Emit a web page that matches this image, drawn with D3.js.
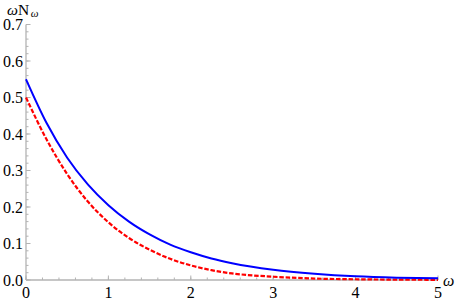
<!DOCTYPE html>
<html><head><meta charset="utf-8">
<script src="https://cdn.jsdelivr.net/npm/d3@7"></script>
<style>body{margin:0;background:#fff}svg{display:block}text{font-family:"Liberation Serif","DejaVu Serif",serif}</style>
</head><body><svg id="c" width="457" height="304"></svg>
<script>
const omega = [0,0.25,0.5,0.75,1,1.25,1.5,1.75,2,2.25,2.5,3,3.5,4,4.5,5];
const blueVals = [0.55,0.43,0.335,0.262,0.205,0.160,0.125,0.097,0.076,0.059,0.046,0.028,0.017,0.010,0.0065,0.005];
const redVals  = [0.50,0.385,0.29,0.215,0.158,0.115,0.083,0.058,0.040,0.027,0.018,0.009,0.004,0.002,0.001,0.0005];
const xTicks = [0,1,2,3,4,5];
const yTicks = [0,0.1,0.2,0.3,0.4,0.5,0.6,0.7];

const svg = d3.select("#c");
const x = d3.scaleLinear().domain([0,5]).range([26,438]);
const y = d3.scaleLinear().domain([0,0.7]).range([280,24.5]);
const axisCol = "#b3b3b3";

const xMinor = d3.range(0,5.001,0.2).map(v=>+v.toFixed(2));
const yMinor = d3.range(0,0.7001,0.02).map(v=>+v.toFixed(3));
svg.append("g").selectAll("line").data(xMinor).join("line")
  .attr("x1",d=>x(d)).attr("x2",d=>x(d)).attr("y1",y(0)).attr("y2",y(0)-2.5)
  .attr("stroke",axisCol).attr("stroke-width",1);
svg.append("g").selectAll("line").data(yMinor).join("line")
  .attr("x1",x(0)).attr("x2",x(0)+2.5).attr("y1",d=>y(d)).attr("y2",d=>y(d))
  .attr("stroke",axisCol).attr("stroke-width",1);
svg.append("g").selectAll("line").data(xTicks).join("line")
  .attr("x1",d=>x(d)).attr("x2",d=>x(d)).attr("y1",y(0)).attr("y2",y(0)-4.5)
  .attr("stroke",axisCol).attr("stroke-width",1);
svg.append("g").selectAll("line").data(yTicks).join("line")
  .attr("x1",x(0)).attr("x2",x(0)+4.5).attr("y1",d=>y(d)).attr("y2",d=>y(d))
  .attr("stroke",axisCol).attr("stroke-width",1);
svg.append("line").attr("x1",x(0)).attr("x2",x(5)).attr("y1",y(0)).attr("y2",y(0))
  .attr("stroke",axisCol).attr("stroke-width",1.3);
svg.append("line").attr("x1",x(0)).attr("x2",x(0)).attr("y1",y(0)).attr("y2",y(0.7))
  .attr("stroke",axisCol).attr("stroke-width",1.3);

svg.append("g").selectAll("text").data(xTicks).join("text")
  .attr("x",d=>x(d)).attr("y",298).attr("text-anchor","middle")
  .attr("font-size",16).text(d=>d);
svg.append("g").selectAll("text").data(yTicks).join("text")
  .attr("x",23).attr("y",d=>y(d)+5.5).attr("text-anchor","end")
  .attr("font-size",16).text(d=>d.toFixed(1));

const yl = svg.append("text").attr("x",7).attr("y",14.5).attr("font-size",15.5);
yl.append("tspan").attr("font-style","italic").text("ω");
yl.append("tspan").text("N");
yl.append("tspan").attr("font-style","italic").attr("font-size",11).attr("dx",1.5).attr("dy",2).text("ω");
svg.append("text").attr("x",443).attr("y",286).attr("font-size",16).attr("font-style","italic").text("ω");

const line = (vals)=>d3.line().x((d,i)=>x(omega[i])).y(d=>y(d)).curve(d3.curveMonotoneX)(vals);
svg.append("path").attr("d",line(redVals)).attr("fill","none")
  .attr("stroke","#ff0000").attr("stroke-width",2.2).attr("stroke-dasharray","4.5,1.8");
svg.append("path").attr("d",line(blueVals)).attr("fill","none")
  .attr("stroke","#0000ff").attr("stroke-width",2);
</script></body></html>
